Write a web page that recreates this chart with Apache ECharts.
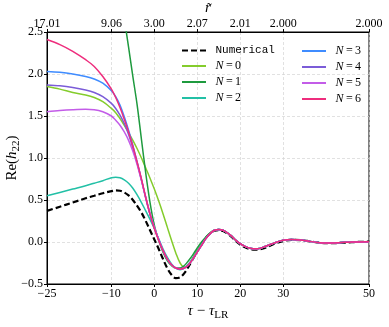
<!DOCTYPE html>
<html>
<head>
<meta charset="utf-8">
<script src="https://cdn.jsdelivr.net/npm/echarts@6/dist/echarts.min.js"></script>
<style>
  html, body { margin: 0; padding: 0; background: #fff; }
  #chart { width: 389px; height: 327px; }
</style>
</head>
<body>
<div id="chart"></div>
<script>
// tau - tau_LR sample points
const tau = [-25, -22, -19, -16, -14, -12, -10, -9, -8, -7, -6, -5, -4, -3, -2, -1,
  0, 1, 2, 3, 4, 5, 6, 7, 8, 9, 10, 11, 12, 13, 14, 15, 16, 17, 18, 19,
  20, 21, 22, 23, 24, 26, 28, 30, 32, 34, 36, 38, 40, 43, 46, 50]

const numerical = [0.37, 0.42, 0.47, 0.52, 0.55, 0.58, 0.605, 0.615, 0.61, 0.59, 0.555, 0.50, 0.43, 0.35, 0.25, 0.14,
  0.03, -0.08, -0.20, -0.31, -0.39, -0.43, -0.42, -0.37, -0.29, -0.20,
  -0.11, -0.03, 0.05, 0.10, 0.135, 0.14, 0.13, 0.10, 0.06, 0.01,
  -0.03, -0.06, -0.08, -0.09, -0.09, -0.065, -0.02, 0.01, 0.025, 0.022,
  0.01, -0.005, -0.015, -0.012, -0.002, 0.004]
const n0 = [1.85, 1.82, 1.78, 1.75, 1.72, 1.67, 1.59, 1.54, 1.47, 1.39, 1.30, 1.21, 1.11, 1.00, 0.88, 0.76,
  0.63, 0.49, 0.34, 0.18, 0.02, -0.13, -0.25, -0.30, -0.27, -0.19,
  -0.10, -0.02, 0.05, 0.11, 0.14, 0.15, 0.14, 0.11, 0.07, 0.02,
  -0.02, -0.05, -0.07, -0.08, -0.08, -0.05, -0.01, 0.02, 0.03, 0.025,
  0.01, -0.005, -0.012, -0.008, 0.0, 0.004]
const n1 = [null, null, null, null, null, null, null, null, 3.0, 2.66, 2.32, 1.97, 1.63, 1.22, 0.82, 0.47,
  0.20, 0.02, -0.12, -0.22, -0.28, -0.31, -0.31, -0.28, -0.22, -0.15,
  -0.07, 0.0, 0.06, 0.11, 0.14, 0.15, 0.14, 0.11, 0.07, 0.02,
  -0.02, -0.05, -0.07, -0.08, -0.08, -0.05, -0.01, 0.02, 0.03, 0.025,
  0.01, -0.005, -0.012, -0.008, 0.0, 0.004]
const n2 = [0.55, 0.59, 0.63, 0.67, 0.70, 0.73, 0.765, 0.77, 0.765, 0.74, 0.70, 0.64, 0.56, 0.47, 0.37, 0.27,
  0.16, 0.04, -0.08, -0.18, -0.26, -0.31, -0.33, -0.31, -0.26, -0.19,
  -0.11, -0.03, 0.04, 0.10, 0.14, 0.15, 0.14, 0.11, 0.07, 0.02,
  -0.02, -0.05, -0.07, -0.08, -0.08, -0.05, -0.01, 0.02, 0.03, 0.025,
  0.01, -0.005, -0.012, -0.008, 0.0, 0.004]
const n3 = [2.03, 2.02, 2.00, 1.97, 1.94, 1.89, 1.80, 1.73, 1.63, 1.49, 1.33, 1.15, 0.95, 0.74, 0.52, 0.33,
  0.17, 0.03, -0.10, -0.20, -0.27, -0.31, -0.32, -0.31, -0.27, -0.20,
  -0.12, -0.04, 0.04, 0.10, 0.14, 0.15, 0.14, 0.11, 0.07, 0.02,
  -0.02, -0.05, -0.07, -0.08, -0.08, -0.05, -0.01, 0.02, 0.03, 0.025,
  0.01, -0.005, -0.012, -0.008, 0.0, 0.004]
const n4 = [1.87, 1.86, 1.84, 1.81, 1.78, 1.73, 1.65, 1.59, 1.51, 1.41, 1.28, 1.12, 0.94, 0.74, 0.53, 0.33,
  0.17, 0.03, -0.10, -0.20, -0.27, -0.31, -0.32, -0.31, -0.27, -0.20,
  -0.12, -0.04, 0.04, 0.10, 0.14, 0.15, 0.14, 0.11, 0.07, 0.02,
  -0.02, -0.05, -0.07, -0.08, -0.08, -0.05, -0.01, 0.02, 0.03, 0.025,
  0.01, -0.005, -0.012, -0.008, 0.0, 0.004]
const n5 = [1.55, 1.565, 1.575, 1.58, 1.575, 1.55, 1.50, 1.45, 1.39, 1.31, 1.21, 1.08, 0.92, 0.73, 0.53, 0.34,
  0.17, 0.03, -0.10, -0.20, -0.27, -0.31, -0.32, -0.31, -0.27, -0.20,
  -0.12, -0.04, 0.04, 0.10, 0.14, 0.15, 0.14, 0.11, 0.07, 0.02,
  -0.02, -0.05, -0.07, -0.08, -0.08, -0.05, -0.01, 0.02, 0.03, 0.025,
  0.01, -0.005, -0.012, -0.008, 0.0, 0.004]
const n6 = [2.41, 2.35, 2.27, 2.17, 2.09, 1.97, 1.82, 1.72, 1.60, 1.46, 1.31, 1.14, 0.95, 0.75, 0.53, 0.33,
  0.16, 0.02, -0.10, -0.20, -0.27, -0.31, -0.32, -0.31, -0.27, -0.20,
  -0.12, -0.04, 0.04, 0.10, 0.14, 0.15, 0.14, 0.11, 0.07, 0.02,
  -0.02, -0.05, -0.07, -0.08, -0.08, -0.05, -0.01, 0.02, 0.03, 0.025,
  0.01, -0.005, -0.012, -0.008, 0.0, 0.004]

const seriesNames = ['Numerical', 'N=0', 'N=1', 'N=2', 'N=3', 'N=4', 'N=5', 'N=6']
const seriesValues = [numerical, n0, n1, n2, n3, n4, n5, n6]
const seriesColors = ['#000000', '#84cc2c', '#1e9a3e', '#22c0a6', '#3f8cff', '#7b5cd8', '#c35ce8', '#ee2d7d']

const xTicks = [-25, -10, 0, 10, 20, 30, 50]
const rLabels = ['17.01', '9.06', '3.00', '2.07', '2.01', '2.000', '2.000']

const serif = "'Liberation Serif', 'DejaVu Serif', serif"
const mono = "'Liberation Mono', 'DejaVu Sans Mono', monospace"
const minus = s => String(s).replace('-', '\u2212')

const gridLine = { show: true, lineStyle: { color: '#d4d4d4', width: 0.7, type: [3, 2] } }
const labelFont = { color: '#000', fontFamily: serif, fontSize: 12 }

// legend keys drawn as thin bars; the numerical one as dashes
const solidIcon = 'path://M0,0H24V2H0Z'
const dashIcon = 'path://M0,0H6V2H0Z M9,0H15V2H9Z M18,0H24V2H18Z'

const chart = echarts.init(document.getElementById('chart'), null, { renderer: 'canvas' })

const legendText = {
  color: '#000',
  rich: {
    m: { fontFamily: mono, fontSize: 11, padding: [0, 0, 0, 4] },
    i: { fontFamily: serif, fontStyle: 'italic', fontSize: 12, padding: [0, 0, 0, 4] },
    t: { fontFamily: serif, fontSize: 12 }
  }
}
const legendFmt = name => name === 'Numerical'
  ? '{m|Numerical}'
  : '{i|N}{t|\u2009=\u2009' + name.slice(2) + '}'

const legendBase = {
  orient: 'vertical',
  top: 40,
  itemWidth: 25,
  itemHeight: 2,
  itemGap: 4,
  textStyle: legendText,
  formatter: legendFmt
}
const legendData = names => names.map(n => ({ name: n, icon: n === 'Numerical' ? dashIcon : solidIcon }))

chart.setOption({
  animation: false,
  grid: {
    left: 47, right: 20, top: 32, bottom: 43,
    outerBoundsMode: 'none',
    show: true, borderColor: '#000', borderWidth: 1
  },
  legend: [
    Object.assign({}, legendBase, { left: 177, data: legendData(seriesNames.slice(0, 4)) }),
    Object.assign({}, legendBase, { left: 297, data: legendData(seriesNames.slice(4)) })
  ],
  xAxis: [
    {
      type: 'value',
      min: -25,
      max: 50,
      position: 'bottom',
      axisLine: { onZero: false, lineStyle: { color: '#000', width: 1 } },
      axisTick: { show: true, length: 3, inside: false, customValues: xTicks, lineStyle: { color: '#000' } },
      axisLabel: Object.assign({ customValues: xTicks, margin: 4, formatter: v => minus(v) }, labelFont),
      splitLine: gridLine,
      name: '{i|τ}{t| \u2212 }{i|τ}{s|LR}',
      nameLocation: 'middle',
      nameGap: 19,
      nameMoveOverlap: false,
      nameTextStyle: {
        color: '#000',
        rich: {
          i: { fontFamily: serif, fontStyle: 'italic', fontSize: 15, lineHeight: 16 },
          t: { fontFamily: serif, fontSize: 15, lineHeight: 16 },
          s: { fontFamily: serif, fontSize: 11, lineHeight: 11, padding: [8, 0, 0, 0] }
        }
      }
    },
    {
      type: 'value',
      min: -25,
      max: 50,
      position: 'top',
      axisLine: { show: true, onZero: false, lineStyle: { color: '#000', width: 1 } },
      axisTick: { show: true, length: 3, inside: false, customValues: xTicks, lineStyle: { color: '#000' } },
      axisLabel: Object.assign({
        customValues: xTicks,
        margin: 2,
        formatter: v => rLabels[xTicks.indexOf(v)]
      }, labelFont),
      splitLine: { show: false },
      name: '{i|r\u0303}',
      nameLocation: 'middle',
      nameGap: 16,
      nameMoveOverlap: false,
      nameTextStyle: {
        color: '#000',
        rich: { i: { fontFamily: serif, fontStyle: 'italic', fontSize: 15 } }
      }
    }
  ],
  yAxis: {
    type: 'value',
    min: -0.5,
    max: 2.5,
    interval: 0.5,
    axisLine: { show: true, onZero: false, lineStyle: { color: '#000', width: 1 } },
    axisTick: { show: true, length: 3, inside: false, lineStyle: { color: '#000' } },
    axisLabel: Object.assign({ margin: 4, formatter: v => minus(v.toFixed(1)) }, labelFont),
    splitLine: gridLine,
    name: '{t|Re(}{i|h}{s|22}{t|)}',
    nameLocation: 'middle',
    nameRotate: 90,
    nameGap: 27,
    nameMoveOverlap: false,
    nameTextStyle: {
      color: '#000',
      rich: {
        i: { fontFamily: serif, fontStyle: 'italic', fontSize: 15, lineHeight: 16 },
        t: { fontFamily: serif, fontSize: 15, lineHeight: 16 },
        s: { fontFamily: serif, fontSize: 11, lineHeight: 11, padding: [8, 0, 0, 0] }
      }
    }
  },
  series: seriesNames.map((name, k) => ({
    name: name,
    type: 'line',
    xAxisIndex: 0,
    data: tau.map((t, i) => [t, seriesValues[k][i]]),
    symbol: 'none',
    smooth: 0.35,
    clip: true,
    connectNulls: false,
    color: seriesColors[k],
    lineStyle: k === 0
      ? { color: '#000', width: 2.2, type: [6, 3] }
      : { color: seriesColors[k], width: 1.5 }
  }))
})
</script>
</body>
</html>
